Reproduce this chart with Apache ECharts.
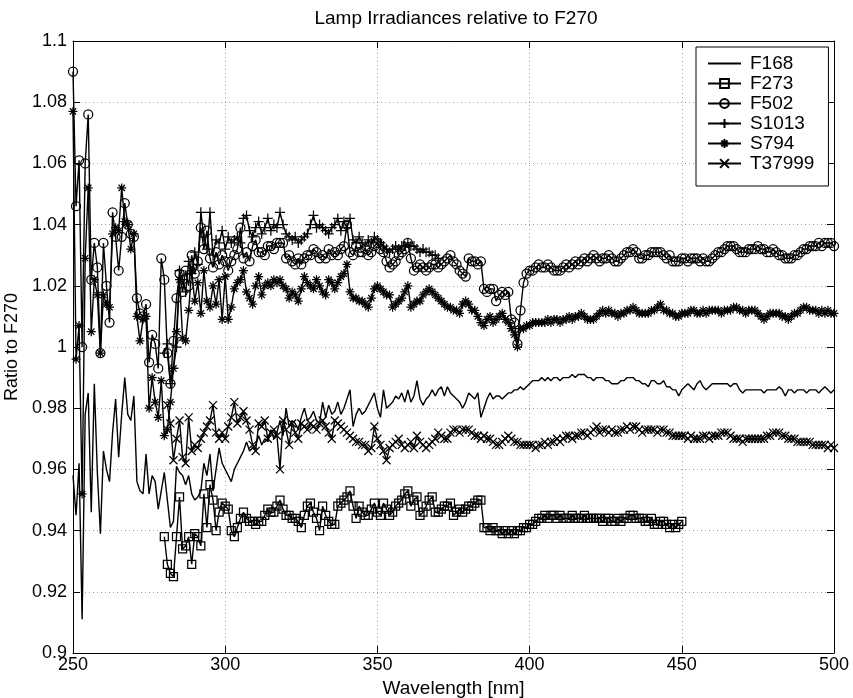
<!DOCTYPE html>
<html>
<head>
<meta charset="utf-8">
<script src="https://cdn.jsdelivr.net/npm/echarts@6/dist/echarts.min.js"></script>
<style>html,body{margin:0;padding:0;background:#fff;}#c{width:853px;height:698px;}</style>
</head>
<body>
<div id="c"></div>
<script>
const titleText = 'Lamp Irradiances relative to F270';
const xTicks = [250, 300, 350, 400, 450, 500];
const yTicks = [0.9, 0.92, 0.94, 0.96, 0.98, 1, 1.02, 1.04, 1.06, 1.08, 1.1];
const seriesNames = ['F168', 'F273', 'F502', 'S1013', 'S794', 'T37999'];

// start wavelength (nm) of each series, 1 nm step
const F168_start = 250;
const F168 = [
0.958,0.945,0.962,0.911,0.978,0.985,0.946,0.988,0.959,0.939,
0.966,0.960,0.956,0.972,0.983,0.964,0.978,0.990,0.978,0.976,
0.984,0.956,0.953,0.952,0.965,0.952,0.958,0.956,0.947,0.953,
0.959,0.950,0.941,0.943,0.961,0.959,0.958,0.955,0.958,0.952,
0.950,0.951,0.953,0.962,0.958,0.965,0.953,0.960,0.967,0.962,
0.960,0.958,0.956,0.960,0.962,0.964,0.966,0.969,0.966,0.967,
0.968,0.971,0.968,0.970,0.969,0.973,0.970,0.972,0.976,0.971,
0.980,0.974,0.976,0.975,0.973,0.977,0.980,0.976,0.977,0.979,
0.976,0.975,0.982,0.977,0.981,0.978,0.979,0.982,0.978,0.980,
0.983,0.986,0.974,0.978,0.980,0.978,0.979,0.981,0.983,0.985,
0.980,0.977,0.986,0.980,0.981,0.982,0.984,0.983,0.985,0.982,
0.986,0.982,0.984,0.989,0.983,0.981,0.983,0.984,0.986,0.984,
0.986,0.987,0.984,0.987,0.985,0.984,0.983,0.982,0.980,0.982,
0.985,0.984,0.983,0.985,0.977,0.980,0.983,0.985,0.983,0.984,
0.984,0.983,0.984,0.985,0.985,0.986,0.986,0.987,0.986,0.987,
0.988,0.989,0.989,0.989,0.990,0.989,0.990,0.989,0.990,0.990,
0.989,0.990,0.990,0.990,0.991,0.990,0.991,0.991,0.991,0.990,
0.990,0.989,0.990,0.990,0.990,0.989,0.989,0.988,0.988,0.988,
0.989,0.989,0.990,0.990,0.990,0.989,0.989,0.988,0.988,0.987,
0.989,0.989,0.988,0.988,0.989,0.987,0.987,0.986,0.986,0.984,
0.986,0.987,0.988,0.987,0.986,0.988,0.989,0.987,0.986,0.987,
0.988,0.988,0.988,0.988,0.988,0.988,0.987,0.988,0.988,0.986,
0.985,0.986,0.986,0.986,0.986,0.986,0.986,0.985,0.986,0.986,
0.986,0.986,0.987,0.986,0.984,0.986,0.986,0.985,0.986,0.986,
0.986,0.985,0.986,0.986,0.986,0.985,0.986,0.987,0.986,0.985,
0.986];

const F273_start = 280;
const F273 = [
0.938,0.929,0.926,0.925,0.938,0.951,0.934,0.935,0.938,0.929,
0.939,0.938,0.935,0.952,0.941,0.955,0.950,0.940,0.946,0.949,
0.948,0.947,0.940,0.938,0.941,0.944,0.946,0.944,0.943,0.943,
0.942,0.943,0.943,0.945,0.947,0.946,0.946,0.948,0.950,0.947,
0.945,0.945,0.944,0.944,0.943,0.941,0.945,0.948,0.949,0.946,
0.944,0.940,0.948,0.945,0.943,0.942,0.942,0.948,0.949,0.950,
0.951,0.953,0.948,0.944,0.948,0.946,0.945,0.945,0.947,0.949,
0.946,0.945,0.949,0.947,0.945,0.946,0.948,0.949,0.950,0.952,
0.953,0.948,0.950,0.951,0.945,0.946,0.948,0.950,0.951,0.946,
0.946,0.947,0.948,0.948,0.949,0.945,0.946,0.947,0.946,0.947,
0.948,0.948,0.949,0.950,0.950,0.941,0.941,0.940,0.941,0.940,
0.940,0.939,0.940,0.939,0.940,0.939,0.940,0.940,0.941,0.941,
0.942,0.942,0.943,0.944,0.944,0.945,0.944,0.945,0.945,0.944,
0.945,0.944,0.944,0.944,0.945,0.944,0.944,0.944,0.945,0.944,
0.944,0.944,0.944,0.944,0.943,0.944,0.944,0.943,0.943,0.944,
0.943,0.944,0.944,0.945,0.945,0.944,0.944,0.944,0.943,0.943,
0.944,0.942,0.942,0.943,0.943,0.942,0.941,0.942,0.941,0.942,
0.943];

const F502_start = 250;
const F502 = [
1.090,1.046,1.061,1.000,1.060,1.076,1.022,1.034,1.026,0.998,
1.034,1.020,1.008,1.044,1.036,1.025,1.036,1.047,1.040,1.037,
1.036,1.016,1.011,1.010,1.014,0.995,1.004,1.001,0.993,1.029,
1.022,0.998,0.988,1.002,1.016,1.024,1.018,1.025,1.020,1.030,
1.024,1.028,1.039,1.032,1.038,1.029,1.026,1.031,1.027,1.030,
1.028,1.025,1.028,1.030,1.032,1.039,1.029,1.031,1.028,1.033,
1.035,1.031,1.031,1.030,1.033,1.033,1.032,1.034,1.034,1.034,
1.029,1.030,1.028,1.027,1.029,1.027,1.029,1.030,1.030,1.032,
1.031,1.029,1.030,1.029,1.032,1.030,1.031,1.030,1.032,1.033,
1.040,1.031,1.030,1.033,1.031,1.031,1.032,1.030,1.031,1.033,
1.034,1.032,1.031,1.028,1.026,1.027,1.028,1.030,1.031,1.032,
1.034,1.029,1.025,1.026,1.027,1.026,1.025,1.026,1.027,1.027,
1.026,1.027,1.028,1.029,1.030,1.028,1.027,1.025,1.024,1.023,
1.029,1.028,1.028,1.027,1.028,1.019,1.018,1.019,1.019,1.015,
1.017,1.018,1.017,1.018,1.009,1.008,1.001,1.012,1.021,1.024,
1.025,1.025,1.026,1.027,1.026,1.026,1.027,1.026,1.025,1.025,
1.025,1.026,1.027,1.026,1.027,1.028,1.027,1.028,1.029,1.028,
1.029,1.030,1.029,1.028,1.029,1.029,1.030,1.029,1.028,1.028,
1.029,1.030,1.031,1.031,1.032,1.031,1.029,1.029,1.030,1.030,
1.031,1.031,1.031,1.031,1.030,1.029,1.030,1.028,1.028,1.028,
1.029,1.029,1.028,1.029,1.029,1.029,1.028,1.029,1.028,1.028,
1.029,1.030,1.031,1.031,1.032,1.033,1.033,1.033,1.032,1.031,
1.031,1.031,1.032,1.032,1.032,1.033,1.032,1.032,1.031,1.031,
1.032,1.031,1.030,1.030,1.029,1.029,1.029,1.030,1.030,1.031,
1.032,1.032,1.033,1.033,1.033,1.034,1.033,1.034,1.034,1.034,
1.033];

const S1013_start = 280;
const S1013 = [
0.998,1.001,0.988,0.993,1.000,1.025,1.022,1.018,1.028,1.024,
1.031,1.027,1.044,1.036,1.032,1.044,1.030,1.035,1.034,1.038,
1.032,1.036,1.034,1.035,1.036,1.034,1.042,1.043,1.038,1.036,
1.039,1.041,1.037,1.039,1.042,1.038,1.040,1.039,1.044,1.040,
1.037,1.036,1.035,1.036,1.034,1.035,1.036,1.037,1.040,1.043,
1.039,1.040,1.039,1.038,1.037,1.039,1.040,1.042,1.038,1.041,
1.039,1.042,1.035,1.034,1.036,1.034,1.033,1.035,1.034,1.036,
1.035,1.034,1.033,1.032,1.031,1.032,1.033,1.032,1.033,1.033,
1.034,1.033,1.033,1.032,1.031,1.032,1.031,1.031,1.030,1.030,
1.029];

const S794_start = 250;
const S794 = [
1.077,0.996,1.007,0.952,1.029,1.052,1.005,1.022,1.017,0.998,
1.017,1.014,1.013,1.037,1.039,1.038,1.052,1.041,1.040,1.032,
1.037,1.010,1.002,1.009,1.010,0.980,0.990,0.982,0.977,0.989,
0.971,0.973,0.982,0.993,1.005,1.022,1.003,1.002,1.012,1.025,
1.015,1.021,1.011,1.025,1.015,1.013,1.020,1.014,1.022,1.009,
1.023,1.009,1.013,1.019,1.021,1.022,1.025,1.018,1.016,1.014,
1.020,1.023,1.017,1.020,1.021,1.020,1.022,1.021,1.022,1.020,
1.019,1.016,1.018,1.017,1.015,1.019,1.023,1.021,1.020,1.019,
1.022,1.020,1.018,1.017,1.022,1.021,1.019,1.021,1.023,1.024,
1.027,1.018,1.016,1.016,1.015,1.015,1.014,1.013,1.016,1.019,
1.020,1.019,1.018,1.017,1.017,1.013,1.014,1.015,1.016,1.018,
1.020,1.013,1.014,1.015,1.015,1.017,1.018,1.019,1.018,1.017,
1.016,1.015,1.014,1.013,1.013,1.012,1.012,1.011,1.014,1.015,
1.014,1.012,1.012,1.010,1.008,1.007,1.009,1.010,1.008,1.009,
1.010,1.011,1.009,1.008,1.006,1.004,1.000,1.006,1.006,1.007,
1.007,1.008,1.008,1.008,1.008,1.008,1.009,1.008,1.009,1.009,
1.008,1.009,1.009,1.010,1.009,1.010,1.010,1.011,1.010,1.009,
1.009,1.009,1.010,1.011,1.012,1.011,1.012,1.011,1.011,1.010,
1.011,1.011,1.012,1.012,1.013,1.012,1.011,1.011,1.011,1.011,
1.012,1.012,1.013,1.014,1.012,1.012,1.011,1.011,1.010,1.010,
1.011,1.011,1.011,1.012,1.012,1.011,1.011,1.012,1.011,1.012,
1.012,1.012,1.012,1.011,1.012,1.012,1.012,1.013,1.013,1.012,
1.012,1.011,1.012,1.012,1.012,1.011,1.010,1.009,1.010,1.011,
1.011,1.011,1.011,1.010,1.010,1.009,1.010,1.011,1.011,1.012,
1.013,1.013,1.012,1.012,1.012,1.011,1.012,1.011,1.012,1.011,
1.011];

const T37999_start = 281;
const T37999 = [
0.981,0.975,0.963,0.970,0.976,0.964,0.962,0.977,0.966,
0.968,0.967,0.970,0.972,0.974,0.976,0.981,0.972,0.970,0.972,
0.970,0.974,0.977,0.982,0.975,0.977,0.979,0.976,0.973,0.968,
0.966,0.975,0.974,0.976,0.970,0.972,0.973,0.971,0.960,0.976,
0.973,0.968,0.975,0.972,0.970,0.975,0.974,0.973,0.975,0.974,
0.973,0.975,0.976,0.974,0.972,0.970,0.976,0.975,0.974,0.973,
0.972,0.971,0.970,0.969,0.969,0.968,0.968,0.966,0.967,0.974,
0.970,0.968,0.966,0.963,0.967,0.968,0.969,0.970,0.968,0.967,
0.968,0.969,0.967,0.971,0.969,0.968,0.967,0.968,0.969,0.970,
0.972,0.971,0.970,0.970,0.972,0.973,0.973,0.972,0.973,0.973,
0.973,0.972,0.971,0.971,0.970,0.971,0.970,0.970,0.969,0.968,
0.968,0.969,0.970,0.971,0.970,0.969,0.969,0.968,0.968,0.968,
0.968,0.968,0.967,0.968,0.968,0.969,0.968,0.969,0.969,0.970,
0.969,0.970,0.971,0.971,0.970,0.971,0.971,0.972,0.972,0.971,
0.972,0.973,0.974,0.972,0.973,0.973,0.972,0.973,0.972,0.972,
0.973,0.973,0.974,0.973,0.974,0.974,0.973,0.972,0.973,0.973,
0.973,0.973,0.972,0.973,0.973,0.972,0.972,0.971,0.971,0.971,
0.971,0.971,0.970,0.971,0.970,0.970,0.970,0.971,0.971,0.970,
0.971,0.971,0.971,0.972,0.972,0.972,0.971,0.970,0.970,0.970,
0.969,0.970,0.970,0.970,0.970,0.970,0.970,0.970,0.971,0.971,
0.972,0.972,0.972,0.971,0.971,0.970,0.970,0.970,0.969,0.969,
0.969,0.969,0.969,0.968,0.968,0.968,0.968,0.968,0.967,0.968,
0.967];

function pairs(start, vals) { return vals.map((v, i) => [start + i, v]); }

const FONT = '"Liberation Sans", Arial, Helvetica, sans-serif';
const plusPath = 'path://M0,5L10,5M5,0L5,10';
const starPath = 'path://M0,5L10,5M5,0L5,10M1.5,1.5L8.5,8.5M8.5,1.5L1.5,8.5';
const xPath = 'path://M0,0L10,10M10,0L0,10';

function mk(name, start, vals, symbol, size) {
  return {
    name: name, type: 'line', data: pairs(start, vals),
    symbol: symbol, symbolSize: size, showAllSymbol: true,
    lineStyle: { color: '#000', width: 1.4 },
    itemStyle: { color: 'rgba(0,0,0,0)', borderColor: '#000', borderWidth: 1.25 },
    emphasis: { disabled: true },
    animation: false
  };
}

const chart = echarts.init(document.getElementById('c'), null, { renderer: 'canvas' });
const axisCommon = { type: 'value', min: 250, max: 500, interval: 50 };
const legendData = seriesNames.map(n => n === 'F168'
  ? { name: n, itemStyle: { color: 'rgba(0,0,0,0)', borderColor: 'rgba(0,0,0,0)', borderWidth: 0 } }
  : { name: n });

chart.setOption({
  backgroundColor: '#fff',
  animation: false,
  textStyle: { fontFamily: FONT, color: '#000' },
  title: {
    text: titleText, left: 451, top: 4, textAlign: 'center',
    textStyle: { fontFamily: FONT, fontSize: 19, fontWeight: 'normal', color: '#000' }
  },
  grid: { left: 73, right: 19, top: 41, bottom: 45, containLabel: false, outerBoundsMode: 'none' },
  legend: {
    data: legendData,
    orient: 'vertical', left: 696, top: 47,
    padding: [7, 14, 13, 11],
    itemGap: 1, itemWidth: 33, itemHeight: 11,
    backgroundColor: '#fff', borderColor: '#000', borderWidth: 1,
    textStyle: { fontFamily: FONT, fontSize: 19, color: '#000', lineHeight: 18, padding: [0, 0, 0, 4] },
    z: 10
  },
  xAxis: [
    Object.assign({}, axisCommon, {
      position: 'bottom',
      name: 'Wavelength [nm]', nameLocation: 'middle', nameGap: 25,
      nameTextStyle: { fontFamily: FONT, fontSize: 19, color: '#000' },
      axisLine: { show: true, onZero: false, lineStyle: { color: '#000', width: 1 } },
      axisTick: { show: true, inside: true, length: 7, lineStyle: { color: '#000' } },
      axisLabel: { show: true, margin: 3, fontFamily: FONT, fontSize: 18, color: '#000' },
      splitLine: { show: true, lineStyle: { color: '#a0a0a0', type: [1, 3], width: 1 } }
    }),
    Object.assign({}, axisCommon, {
      position: 'top',
      axisLine: { show: true, onZero: false, lineStyle: { color: '#000', width: 1 } },
      axisTick: { show: true, inside: true, length: 7, lineStyle: { color: '#000' } },
      axisLabel: { show: false },
      splitLine: { show: false }
    })
  ],
  yAxis: [
    {
      type: 'value', min: 0.9, max: 1.1, interval: 0.02, position: 'left',
      name: 'Ratio to F270', nameLocation: 'middle', nameGap: 43, nameRotate: 90,
      nameTextStyle: { fontFamily: FONT, fontSize: 18, color: '#000' },
      axisLine: { show: true, onZero: false, lineStyle: { color: '#000', width: 1 } },
      axisTick: { show: true, inside: true, length: 7, lineStyle: { color: '#000' } },
      axisLabel: { show: true, margin: 6, fontFamily: FONT, fontSize: 18, color: '#000',
        formatter: v => String(Math.round(v * 100) / 100) },
      splitLine: { show: true, lineStyle: { color: '#a0a0a0', type: [1, 3], width: 1 } }
    },
    {
      type: 'value', min: 0.9, max: 1.1, interval: 0.02, position: 'right',
      axisLine: { show: true, onZero: false, lineStyle: { color: '#000', width: 1 } },
      axisTick: { show: true, inside: true, length: 7, lineStyle: { color: '#000' } },
      axisLabel: { show: false },
      splitLine: { show: false }
    }
  ],
  series: [
    mk('F168', F168_start, F168, 'none', 2),
    mk('F273', F273_start, F273, 'rect', 8),
    mk('F502', F502_start, F502, 'circle', 9),
    mk('S1013', S1013_start, S1013, plusPath, 10),
    mk('S794', S794_start, S794, starPath, 9),
    mk('T37999', T37999_start, T37999, xPath, 8)
  ]
});
</script>
</body>
</html>
